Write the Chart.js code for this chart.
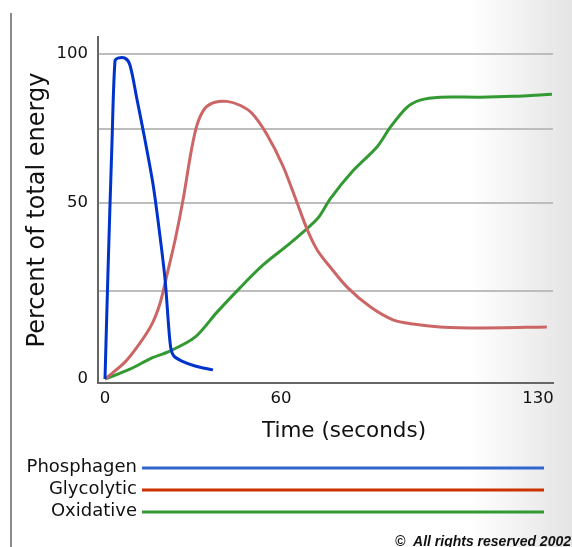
<!DOCTYPE html>
<html>
<head>
<meta charset="utf-8">
<title>Energy systems</title>
<script src="https://cdn.jsdelivr.net/npm/chart.js@4.4.0/dist/chart.umd.min.js"></script>
<style>
  html, body { margin: 0; padding: 0; }
  body {
    width: 572px; height: 547px; overflow: hidden; position: relative;
    background: linear-gradient(to right, #fff 0, #fff 470px, #e4e4e4 572px);
  }
  #leftRule { position: absolute; left: 10px; top: 13px; width: 2px; height: 534px; background: #8a8a8a; }
  canvas { position: absolute; left: 0; top: 0; }
</style>
</head>
<body>
<div id="leftRule"></div>
<canvas id="chart" width="572" height="547"></canvas>
<script>
// Datos (tiempo en s, % de energía total)
const seriesNames = ['Phosphagen', 'Glycolytic', 'Oxidative'];

const phosphagenTime = [0, 1.0, 2.4, 3.4, 4.4, 6.8, 8.5, 10.9, 13.6, 16.4, 18.7, 20.5, 21.8, 22.5, 23.5, 26.2, 30.7, 36.8];
const phosphagen     = [0, 30, 71, 97.6, 98.6, 98.6, 96.3, 84.8, 71.3, 56.1, 40.9, 28.1, 13.9, 8.5, 6.5, 5.1, 3.7, 2.6];

const glycolyticTime = [0, 6.8, 11.9, 16.0, 18.8, 21.1, 23.9, 26.6, 29.3, 31.4, 34.1, 37.5, 41.6, 46.0, 50.1, 55.2, 60.5, 64.4, 67.2, 69.9, 73.4, 78.0, 84.3, 90.5, 96.0, 103.3, 114.2, 132.4];
const glycolytic     = [0, 4.8, 10.2, 15.6, 21.6, 29.5, 39.5, 51.0, 66.9, 76.3, 81.8, 83.8, 84.1, 82.8, 80.1, 73.0, 62.5, 50, 42.3, 36.6, 31.8, 26.1, 20.5, 16.8, 15.6, 14.8, 14.5, 14.8];

const oxidativeTime = [0, 8.5, 16.0, 21.5, 30.7, 38.2, 46.0, 53.9, 62.5, 69.9, 73.4, 79.6, 86.2, 89.7, 94.3, 97.9, 103.3, 114.2, 123.2, 133.8];
const oxidative     = [0, 2.8, 6.0, 7.7, 11.9, 19.0, 25.9, 32.4, 38.6, 45.5, 51.4, 60.8, 68.9, 75.3, 82.1, 84.5, 85.5, 85.5, 85.8, 86.5];

const xTicks = [0, 60, 130];
const yTicks = [0, 25, 50, 75, 100];
const yLabelled = [0, 50, 100];

const lineColors = ['#0033cc', '#cc6666', '#339933'];
const legendColors = ['#3366cc', '#cc3300', '#339933'];

// El dibujo original no es lineal: tramos [valor, fracción del eje]
const scaleBreaks = {
  x: [[0, 7 / 455], [60, 183 / 455], [130, 440 / 455]],
  y: [[0, 4 / 346], [50, 180 / 346], [100, 329 / 346]]
};

class BrokenLinearScale extends Chart.LinearScale {
  getPixelForValue(value) {
    if (value === null || isNaN(value)) return NaN;
    const b = scaleBreaks[this.id];
    let i = 0;
    while (i < b.length - 2 && value > b[i + 1][0]) i++;
    const [v0, d0] = b[i], [v1, d1] = b[i + 1];
    return this.getPixelForDecimal(d0 + (value - v0) * (d1 - d0) / (v1 - v0));
  }
  getValueForPixel(pixel) {
    const b = scaleBreaks[this.id];
    const d = this.getDecimalForPixel(pixel);
    let i = 0;
    while (i < b.length - 2 && d > b[i + 1][1]) i++;
    const [v0, d0] = b[i], [v1, d1] = b[i + 1];
    return v0 + (d - d0) * (v1 - v0) / (d1 - d0);
  }
}
BrokenLinearScale.id = 'brokenLinear';
BrokenLinearScale.defaults = Chart.LinearScale.defaults;
Chart.register(BrokenLinearScale);

Chart.defaults.font.family = '"DejaVu Sans", Verdana, sans-serif';
Chart.defaults.color = '#111';

const toPoints = (xs, ys) => xs.map((x, i) => ({ x: x, y: ys[i] }));
const seriesData = [
  toPoints(phosphagenTime, phosphagen),
  toPoints(glycolyticTime, glycolytic),
  toPoints(oxidativeTime, oxidative)
];

// Leyenda, título del eje X y copyright
const extrasPlugin = {
  id: 'extras',
  afterDraw(chart) {
    const ctx = chart.ctx;
    ctx.save();
    ctx.fillStyle = '#111';
    ctx.textBaseline = 'middle';

    ctx.font = '21.5px "DejaVu Sans"';
    ctx.textAlign = 'center';
    ctx.fillText('Time (seconds)', 344, 431);

    ctx.font = '18px "DejaVu Sans"';
    ctx.textAlign = 'right';
    seriesNames.forEach((name, i) => {
      const y = 467 + i * 22;
      ctx.fillStyle = '#111';
      ctx.fillText(name, 137, y);
      ctx.strokeStyle = legendColors[i];
      ctx.lineWidth = 3;
      ctx.beginPath();
      ctx.moveTo(142, y + 1);
      ctx.lineTo(544, y + 1);
      ctx.stroke();
    });

    ctx.font = 'italic bold 14px "Liberation Sans", Arial, sans-serif';
    ctx.textBaseline = 'alphabetic';
    ctx.fillStyle = '#111';
    ctx.fillText('\u00A9  All rights reserved 2002', 571, 546);
    ctx.restore();
  }
};

new Chart(document.getElementById('chart').getContext('2d'), {
  type: 'line',
  data: {
    datasets: seriesNames.map((name, i) => ({
      label: name,
      data: seriesData[i],
      borderColor: lineColors[i],
      backgroundColor: lineColors[i],
      borderWidth: 3,
      pointRadius: 0,
      fill: false,
      tension: 0.3
    }))
  },
  options: {
    responsive: false,
    animation: false,
    layout: { padding: { top: 37, right: 19, bottom: 94, left: 0 } },
    plugins: {
      legend: { display: false },
      tooltip: { enabled: false }
    },
    scales: {
      x: {
        type: 'brokenLinear',
        min: -2.4,
        max: 134,
        afterBuildTicks: s => { s.ticks = xTicks.map(v => ({ value: v })); },
        afterFit: s => { s.height = 70; },
        grid: { display: false, drawTicks: false },
        border: { color: '#666', width: 2 },
        ticks: { font: { size: 16.5 }, padding: 6, maxRotation: 0, autoSkip: false, callback: v => String(v) }
      },
      y: {
        type: 'brokenLinear',
        min: -1.14,
        max: 105.7,
        afterBuildTicks: s => { s.ticks = yTicks.map(v => ({ value: v })); },
        afterFit: s => { s.width = 98; },
        grid: {
          color: c => (c.tick && c.tick.value === 0) ? 'rgba(0,0,0,0)' : '#bdbdbd',
          lineWidth: 2,
          drawTicks: false
        },
        border: { color: '#666', width: 2 },
        ticks: { font: { size: 16.5 }, padding: 10, callback: v => yLabelled.includes(v) ? String(v) : '' },
        title: {
          display: true,
          text: 'Percent of total energy',
          font: { size: 24 },
          color: '#111',
          padding: { top: 23, bottom: 0 }
        }
      }
    }
  },
  plugins: [extrasPlugin]
});
</script>
</body>
</html>
